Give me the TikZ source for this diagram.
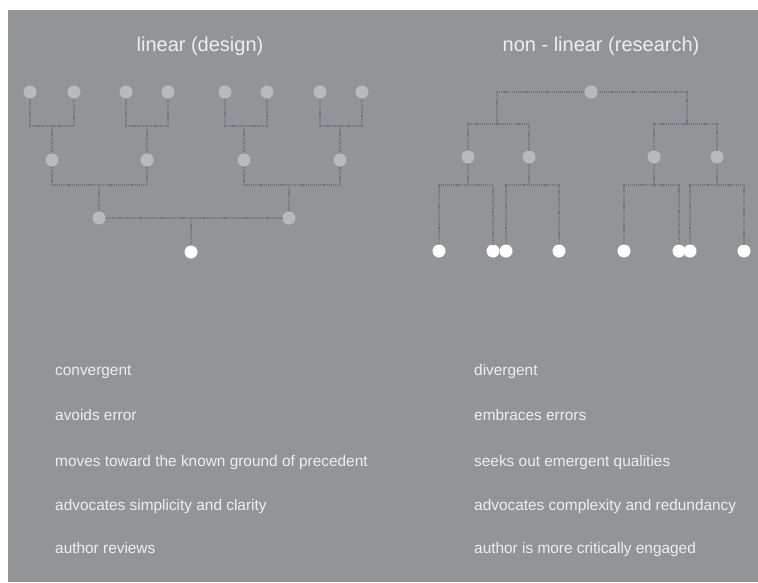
\documentclass[tikz,border=0pt]{standalone}
\usepackage{fontspec}
\setmainfont{Liberation Sans}
\definecolor{bg}{HTML}{939498}
\definecolor{nodegray}{HTML}{B9BABD}
\definecolor{linkgray}{HTML}{74757A}
\definecolor{txt}{HTML}{EEEEEE}
\begin{document}
\begin{tikzpicture}[x=1pt,y=-1pt,
  gdot/.style={circle,fill=nodegray,inner sep=0pt,minimum size=13pt},
  wdot/.style={circle,fill=white,inner sep=0pt,minimum size=13pt},
  link/.style={draw=linkgray,line width=2pt,dash pattern=on 1.2pt off 0.9pt},
  title/.style={text=txt,font=\fontsize{20}{22}\selectfont,anchor=base},
  item/.style={text=txt,font=\fontsize{15.4}{17}\selectfont,anchor=base west,inner sep=0pt}]
\useasboundingbox (0,0) rectangle (758,582);
\fill[white] (0,0) rectangle (758,582);
\fill[bg] (8,10) rectangle (758,582);

% titles
\node[title] (t1) at (200,51) {linear (design)};
\node[title] (t2) at (601,51) {non - linear (research)};

% ---------- linear tree ----------
\foreach \n/\x in {a1/30,a2/74,a3/126,a4/168,a5/225,a6/267,a7/320,a8/362}
  \node[gdot] (\n) at (\x,92) {};
\foreach \n/\x in {b1/52,b2/147,b3/244,b4/340}
  \node[gdot] (\n) at (\x,160) {};
\node[gdot] (c1) at (99,218) {};
\node[gdot] (c2) at (289,218) {};
\node[wdot] (r) at (191,252) {};

\coordinate (ja1) at (52,126);
\coordinate (ja2) at (147,126);
\coordinate (ja3) at (244,126);
\coordinate (ja4) at (340,126);
\draw[link] (a1) |- (ja1) -| (a2);
\draw[link] (ja1) -- (b1);
\draw[link] (a3) |- (ja2) -| (a4);
\draw[link] (ja2) -- (b2);
\draw[link] (a5) |- (ja3) -| (a6);
\draw[link] (ja3) -- (b3);
\draw[link] (a7) |- (ja4) -| (a8);
\draw[link] (ja4) -- (b4);

\coordinate (jb1) at (99,185);
\coordinate (jb2) at (289,185);
\draw[link] (b1) |- (jb1) -| (b2);
\draw[link] (jb1) -- (c1);
\draw[link] (b3) |- (jb2) -| (b4);
\draw[link] (jb2) -- (c2);

\coordinate (jc) at (191,218);
\draw[link] (c1) -- (c2);
\draw[link] (jc) -- (r);

% ---------- non-linear tree ----------
\node[gdot] (top) at (591,92) {};
\foreach \n/\x in {k1/468,k2/529,k3/654,k4/717}
  \node[gdot] (\n) at (\x,157) {};
\foreach \n/\x in {w1/439,w2/493,w3/506,w4/559,w5/624,w6/679,w7/690,w8/744}
  \node[wdot] (\n) at (\x,251) {};

\coordinate (e1) at (497,124);
\coordinate (e2) at (687,124);
\draw[link] (top) -| (e1);
\draw[link] (top) -| (e2);
\draw[link] (k1) |- (e1) -| (k2);
\draw[link] (k3) |- (e2) -| (k4);

\coordinate (d1) at (468,185);
\coordinate (d2) at (529,185);
\coordinate (d3) at (654,185);
\coordinate (d4) at (717,185);
\draw[link] (k1) -- (d1);
\draw[link] (w1) |- (d1) -| (w2);
\draw[link] (k2) -- (d2);
\draw[link] (w3) |- (d2) -| (w4);
\draw[link] (k3) -- (d3);
\draw[link] (w5) |- (d3) -| (w6);
\draw[link] (k4) -- (d4);
\draw[link] (w7) |- (d4) -| (w8);

% ---------- texts ----------
\node[item] (l1) at (55,375) {convergent};
\node[item] (l2) at (55,420) {avoids error};
\node[item] (l3) at (55,466) {moves toward the known ground of precedent};
\node[item] (l4) at (55,510) {advocates simplicity and clarity};
\node[item] (l5) at (55,553) {author reviews};
\node[item] (r1) at (474,375) {divergent};
\node[item] (r2) at (474,420) {embraces errors};
\node[item] (r3) at (474,466) {seeks out emergent qualities};
\node[item] (r4) at (474,510) {advocates complexity and redundancy};
\node[item] (r5) at (474,553) {author is more critically engaged};
\end{tikzpicture}
\end{document}
